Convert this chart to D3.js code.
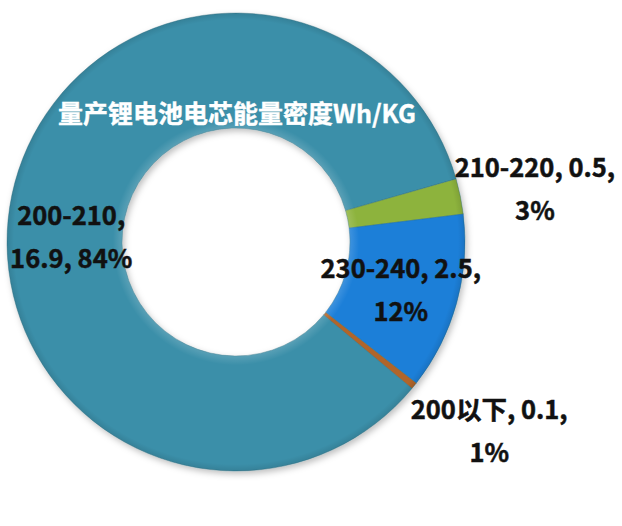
<!DOCTYPE html>
<html>
<head>
<meta charset="utf-8">
<script src="https://cdn.jsdelivr.net/npm/d3@7/dist/d3.min.js"></script>
<style>
  html, body { margin: 0; padding: 0; background: #ffffff; }
  svg { display: block; }
  text { font-family: "Noto Sans CJK SC", "Noto Sans", sans-serif; font-weight: bold; }
</style>
</head>
<body>
<svg id="chart" width="622" height="526"></svg>
<script>
// ---- data ----
const categories = ["200以下", "200-210", "210-220", "230-240"];
const values = [0.1, 16.9, 0.5, 2.5];
const percentLabels = ["1%", "84%", "3%", "12%"];
const colors = ["#b0652b", "#3b8fa9", "#8db33c", "#1a7fd8"];
const title = "量产锂电池电芯能量密度Wh/KG";

// ---- layout ----
const W = 622, H = 526;
const cx = 236, cy = 242;
const outerR = 229, innerR = 114;
const startDeg = 128;
const lineGap = 43;
const labelFont = 25.5;
const labelLines = categories.map((c, i) => {
  if (c === "200-210") return [c + ",", values[i] + ", " + percentLabels[i]];
  return [c + ", " + values[i] + ",", percentLabels[i]];
});
// label placement: radius (from centre) and angle override (deg); null angle = slice mid angle
const labelPlace = {
  "200以下": { r: 315, a: 126.5 },
  "200-210": { r: 165, a: 272.5 },
  "210-220": { r: 304, a: 79.5 },
  "230-240": { r: 171, a: null }
};

const svg = d3.select("#chart");
const defs = svg.append("defs");
const f = defs.append("filter").attr("id", "shadow")
  .attr("x", "-10%").attr("y", "-10%").attr("width", "120%").attr("height", "120%");
f.append("feDropShadow").attr("dx", 2).attr("dy", 3).attr("stdDeviation", 3)
  .attr("flood-color", "#000").attr("flood-opacity", 0.25);

// subtle bevel gradient overlay (coordinates relative to ring centre)
const rg = defs.append("radialGradient").attr("id", "bevel")
  .attr("gradientUnits", "userSpaceOnUse")
  .attr("cx", 0).attr("cy", 0).attr("r", outerR);
rg.append("stop").attr("offset", innerR / outerR).attr("stop-color", "#fff").attr("stop-opacity", 0.15);
rg.append("stop").attr("offset", innerR / outerR + 0.04).attr("stop-color", "#fff").attr("stop-opacity", 0.0);
rg.append("stop").attr("offset", 0.97).attr("stop-color", "#000").attr("stop-opacity", 0.0);
rg.append("stop").attr("offset", 1).attr("stop-color", "#000").attr("stop-opacity", 0.10);

const data = categories.map((c, i) => ({ cat: c, value: values[i], color: colors[i], i }));
const toRad = d => d * Math.PI / 180;

const pie = d3.pie().sort(null).value(d => d.value)
  .startAngle(toRad(startDeg)).endAngle(toRad(startDeg + 360));
const arcs = pie(data);
const arc = d3.arc().innerRadius(innerR).outerRadius(outerR);

const g = svg.append("g").attr("transform", `translate(${cx},${cy})`);
const ring = g.append("g").attr("filter", "url(#shadow)");
ring.selectAll("path.slice").data(arcs).enter().append("path")
  .attr("class", "slice")
  .attr("d", arc)
  .attr("fill", d => d.data.color)
  .attr("stroke", "#2f6f80")
  .attr("stroke-opacity", 0.5)
  .attr("stroke-width", 0.8);

g.append("path")
  .attr("d", d3.arc().innerRadius(innerR).outerRadius(outerR).startAngle(0).endAngle(2 * Math.PI)())
  .attr("fill", "url(#bevel)")
  .attr("pointer-events", "none");

// title
svg.append("text")
  .attr("x", 237).attr("y", 112)
  .attr("text-anchor", "middle")
  .attr("dominant-baseline", "central")
  .attr("fill", "#ffffff")
  .attr("stroke", "#ffffff").attr("stroke-width", 0.4)
  .attr("font-size", 25)
  .text(title);

// labels
arcs.forEach(d => {
  const p = labelPlace[d.data.cat];
  const ang = p.a === null ? (d.startAngle + d.endAngle) / 2 : toRad(p.a);
  const x = p.r * Math.sin(ang);
  const y = -p.r * Math.cos(ang);
  const t = g.append("text")
    .attr("text-anchor", "middle")
    .attr("fill", "#111111")
    .attr("stroke", "#111111").attr("stroke-width", 0.5)
    .attr("font-size", labelFont);
  labelLines[d.data.i].forEach((ln, k) => {
    t.append("tspan")
      .attr("x", x)
      .attr("y", y + (k - 0.5) * lineGap)
      .attr("dominant-baseline", "central")
      .text(ln);
  });
});
</script>
</body>
</html>
